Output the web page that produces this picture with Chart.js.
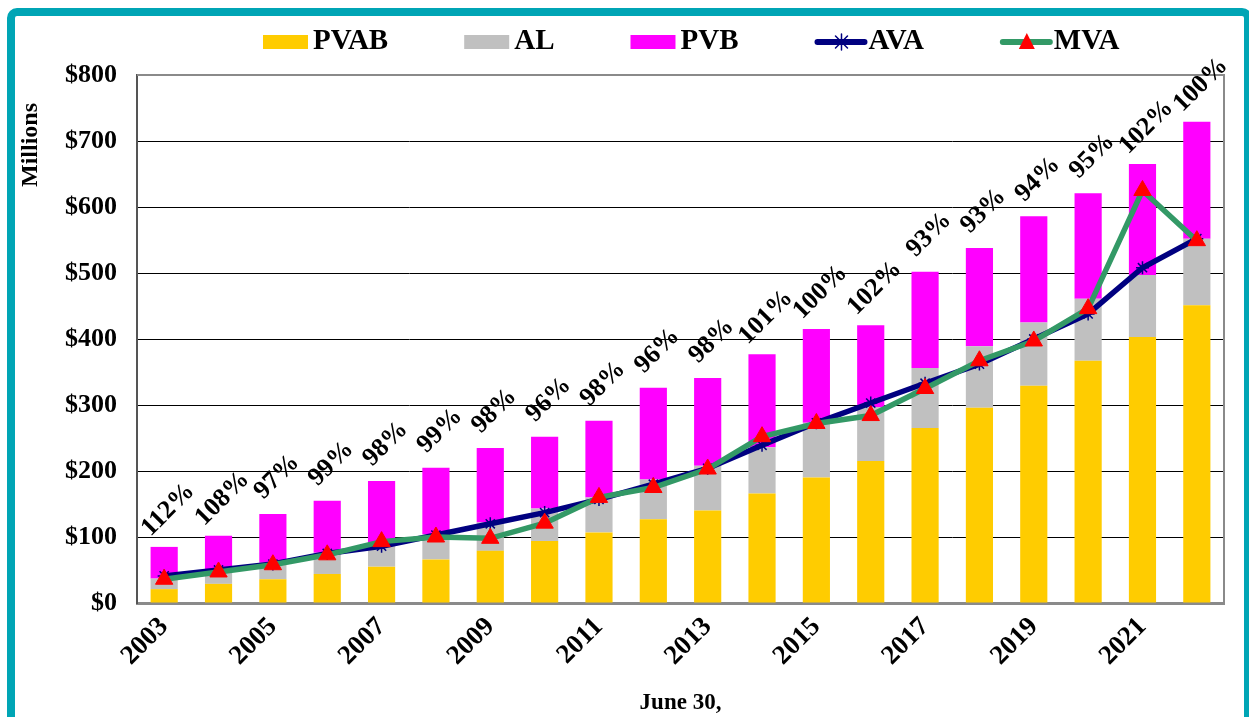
<!DOCTYPE html>
<html>
<head>
<meta charset="utf-8">
<script src="https://cdn.jsdelivr.net/npm/chart.js@4.4.1/dist/chart.umd.min.js"></script>
<style>
  html, body { margin: 0; padding: 0; background: #fff; }
  canvas { display: block; }
</style>
</head>
<body>
<canvas id="myChart" width="1249" height="717"></canvas>
<script>
// values in $ millions, as of June 30
var years = ["2003", "2004", "2005", "2006", "2007", "2008", "2009", "2010", "2011", "2012",
             "2013", "2014", "2015", "2016", "2017", "2018", "2019", "2020", "2021", "2022"];
var pvab = [21, 29, 36, 44, 55, 66, 79, 94, 107, 127, 140, 166, 190, 215, 265, 296, 329, 367, 403, 451];
var al   = [37, 46, 61, 76, 88, 104, 122, 143, 160, 187, 208, 236, 273, 297, 356, 389, 425, 461, 497, 552];
var pvb  = [85, 102, 135, 155, 185, 205, 235, 252, 276, 326, 341, 377, 415, 421, 502, 538, 586, 621, 665, 729];
var ava  = [41, 50, 59, 75, 86, 103, 120, 137, 157, 180, 204, 239, 273, 303, 333, 362, 400, 438, 508, 552];
var mva  = [36, 47, 58, 73, 93, 100, 98, 121, 160, 175, 203, 252, 272, 284, 325, 367, 397, 446, 625, 549];
var ratios = ["112%", "108%", "97%", "99%", "98%", "99%", "98%", "96%", "98%", "96%",
              "98%", "101%", "100%", "102%", "93%", "93%", "94%", "95%", "102%", "100%"];
var yTicks = [0, 100, 200, 300, 400, 500, 600, 700, 800];

var SERIF = '"Liberation Serif", "Times New Roman", serif';
var GOLD = "#FFCC00", SILVER = "#C0C0C0", MAGENTA = "#FF00FF", NAVY = "#000080", GREEN = "#339966", RED = "#FF0000";

// bars are stacked, so the upper segments are the differences
var alPart = al.map(function (v, i) { return v - pvab[i]; });
var pvbPart = pvb.map(function (v, i) { return v - al[i]; });

Chart.defaults.font.family = SERIF;
Chart.defaults.font.weight = "bold";
Chart.defaults.color = "#000";

var frame = {
  id: "frame",
  beforeDraw: function (chart) {
    var ctx = chart.ctx;
    ctx.save();
    ctx.fillStyle = "#fff";
    ctx.fillRect(0, 0, chart.width, chart.height);
    ctx.strokeStyle = "#00A5B5";
    ctx.lineWidth = 8;
    ctx.beginPath();
    ctx.roundRect(11, 12, 1237, 740, 6);
    ctx.stroke();
    ctx.restore();
  },
  afterDatasetsDraw: function (chart) {
    var ctx = chart.ctx, a = chart.chartArea;
    var xs = chart.scales.x, ys = chart.scales.y;
    ctx.save();
    ctx.strokeStyle = "#8a8a8a";
    ctx.lineWidth = 2;
    ctx.beginPath();
    ctx.moveTo(a.left, a.top);
    ctx.lineTo(a.right, a.top);
    ctx.lineTo(a.right, a.bottom);
    ctx.stroke();

    // funded ratio labels
    ctx.fillStyle = "#000";
    ctx.font = "bold 26px " + SERIF;
    ctx.textAlign = "center";
    ctx.textBaseline = "middle";
    ratios.forEach(function (r, i) {
      var x = xs.getPixelForValue(i) + 4;
      var y = ys.getPixelForValue(pvb[i]) - 37;
      ctx.save();
      ctx.translate(x, y);
      ctx.rotate(-Math.PI / 4);
      ctx.fillText(r, 0, 0);
      ctx.restore();
    });
    ctx.restore();
  },
  afterDraw: function (chart) {
    var ctx = chart.ctx, a = chart.chartArea;
    ctx.save();
    ctx.fillStyle = "#000";
    ctx.textBaseline = "middle";

    // axis titles
    ctx.font = "bold 23px " + SERIF;
    ctx.textAlign = "center";
    ctx.fillText("June 30,", (a.left + a.right) / 2, 703);
    ctx.save();
    ctx.translate(31, 145);
    ctx.rotate(-Math.PI / 2);
    ctx.font = "bold 24px " + SERIF;
    ctx.fillText("Millions", 0, 0);
    ctx.restore();

    // legend
    var items = [
      { text: "PVAB", fill: GOLD },
      { text: "AL", fill: SILVER },
      { text: "PVB", fill: MAGENTA },
      { text: "AVA", line: NAVY, mark: "star" },
      { text: "MVA", line: GREEN, mark: "tri" }
    ];
    ctx.font = "bold 29px " + SERIF;
    ctx.textAlign = "left";
    var x = 263, cy = 42;
    items.forEach(function (it) {
      if (it.fill) {
        ctx.fillStyle = it.fill;
        ctx.fillRect(x, cy - 7, 45, 14);
      } else {
        ctx.strokeStyle = it.line;
        ctx.lineWidth = 6;
        ctx.lineCap = "round";
        ctx.beginPath();
        ctx.moveTo(x + 3, cy);
        ctx.lineTo(x + 50, cy);
        ctx.stroke();
        var mx = x + 27;
        if (it.mark === "star") {
          ctx.strokeStyle = NAVY;
          ctx.lineWidth = 1.5;
          ctx.beginPath();
          ctx.moveTo(mx, cy - 8); ctx.lineTo(mx, cy + 8);
          ctx.moveTo(mx - 6, cy - 6); ctx.lineTo(mx + 6, cy + 6);
          ctx.moveTo(mx + 6, cy - 6); ctx.lineTo(mx - 6, cy + 6);
          ctx.stroke();
        } else {
          ctx.fillStyle = RED;
          ctx.beginPath();
          ctx.moveTo(mx, cy - 9);
          ctx.lineTo(mx + 8, cy + 7);
          ctx.lineTo(mx - 8, cy + 7);
          ctx.closePath();
          ctx.fill();
        }
      }
      var sw = it.fill ? 50 : 54;
      ctx.fillStyle = "#000";
      ctx.fillText(it.text, x + sw, cy);
      x += sw + ctx.measureText(it.text).width + 76;
    });
    ctx.restore();
  }
};

var ctx = document.getElementById("myChart").getContext("2d");
var myChart = new Chart(ctx, {
  data: {
    labels: years,
    datasets: [
      { type: "line", label: "MVA", data: mva, order: 0, stack: "mva",
        borderColor: GREEN, borderWidth: 5.5, tension: 0,
        pointStyle: "triangle", pointRadius: 10, pointBackgroundColor: RED, pointBorderColor: RED, pointBorderWidth: 1 },
      { type: "line", label: "AVA", data: ava, order: 1, stack: "ava",
        borderColor: NAVY, borderWidth: 5.5, tension: 0,
        pointStyle: "star", pointRadius: 6.5, pointBorderColor: NAVY, pointBorderWidth: 1.5 },
      { type: "bar", label: "PVAB", data: pvab, order: 2, stack: "bars", backgroundColor: GOLD },
      { type: "bar", label: "AL", data: alPart, order: 2, stack: "bars", backgroundColor: SILVER },
      { type: "bar", label: "PVB", data: pvbPart, order: 2, stack: "bars", backgroundColor: MAGENTA }
    ]
  },
  options: {
    responsive: false,
    animation: false,
    devicePixelRatio: 1,
    datasets: { bar: { barPercentage: 0.5, categoryPercentage: 1 } },
    layout: { padding: { left: 0, right: 25, top: 75, bottom: 0 } },
    plugins: { legend: { display: false }, tooltip: { enabled: false } },
    scales: {
      x: {
        stacked: true,
        grid: { display: false, drawTicks: false },
        border: { display: true, color: "#8a8a8a", width: 3 },
        ticks: {
          autoSkip: false, minRotation: 45, maxRotation: 45, padding: 8,
          font: { size: 27, weight: "bold" },
          callback: function (value, index) { return index % 2 === 0 ? this.getLabelForValue(value) : ""; }
        },
        afterFit: function (scale) { scale.height = 114; }
      },
      y: {
        stacked: true,
        min: 0, max: 800,
        afterBuildTicks: function (scale) { scale.ticks = yTicks.map(function (v) { return { value: v }; }); },
        grid: { color: "#000", lineWidth: 1, drawTicks: false },
        border: { display: true, color: "#555", width: 2 },
        ticks: {
          padding: 20,
          font: { size: 26, weight: "bold" },
          callback: function (v) { return "$" + v; }
        },
        afterFit: function (scale) { scale.width = 137; }
      }
    }
  },
  plugins: [frame]
});
</script>
</body>
</html>
